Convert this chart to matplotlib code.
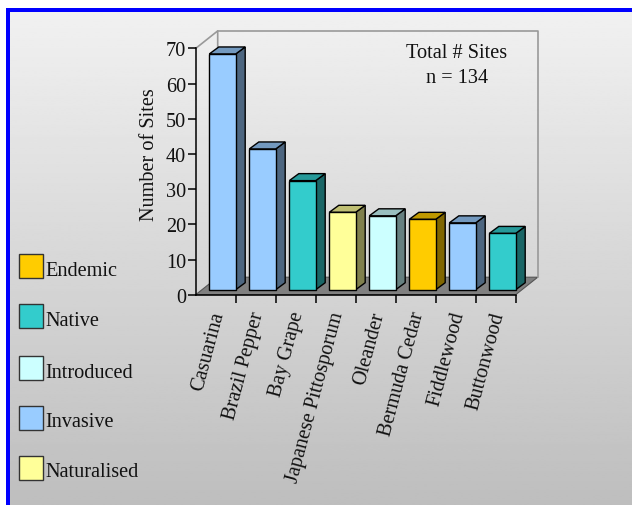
import numpy as np
import matplotlib
matplotlib.use('Agg')
import matplotlib.pyplot as plt
from matplotlib.patches import Polygon, Rectangle

plt.rcParams['font.family'] = ['Liberation Serif', 'DejaVu Serif']

species = ['Casuarina', 'Brazil Pepper', 'Bay Grape', 'Japanese Pittosporum',
           'Oleander', 'Bermuda Cedar', 'Fiddlewood', 'Buttonwood']
sites = [67, 40, 31, 22, 21, 20, 19, 16]
status = ['Invasive', 'Invasive', 'Native', 'Naturalised',
          'Introduced', 'Endemic', 'Invasive', 'Native']

legend_names = ['Endemic', 'Native', 'Introduced', 'Invasive', 'Naturalised']
legend_tops = [255, 305, 357, 407, 457]
colors = {'Endemic': '#FFCC00', 'Native': '#33CCCC', 'Introduced': '#CCFFFF',
          'Invasive': '#99CCFF', 'Naturalised': '#FFFF99'}

W, H = 632, 506
left, bottom, width, height = 195.7, 295.7, 320, 246.3
FS = 14.6

# depth of the box and of each bar, in data units
box_dx, box_dy = 22 / 40, 17.5 / 3.52
bar_dx, bar_dy = 9.5 / 40, 7 / 3.52
bar_x0, bar_w, bar_y0 = 0.34, 0.66, 1.42


def shade(col, k):
    rgb = np.array(matplotlib.colors.to_rgb(col))
    return tuple(rgb * k)


fig = plt.figure(figsize=(W / 100, H / 100), dpi=100, facecolor='white')

# page background with grey gradient and blue frame
bg = fig.add_axes([0, 0, 1, 1], zorder=0)
grad = np.linspace(0.945, 0.745, 256).reshape(-1, 1)
bg.imshow(grad, cmap='gray', vmin=0, vmax=1, aspect='auto',
          extent=(8, W, H, 11), zorder=0)
bg.set_xlim(0, W)
bg.set_ylim(H, 0)
bg.axis('off')
bg.add_patch(Rectangle((6, 9), 4, H, color='#0000FF', lw=0, zorder=1))
bg.add_patch(Rectangle((6, 9), W, 4, color='#0000FF', lw=0, zorder=1))

# legend
for name, top in zip(legend_names, legend_tops):
    bg.add_patch(Rectangle((18.5, top), 24, 24, facecolor=colors[name],
                           edgecolor='#333333', lw=1, zorder=2))
    bg.text(45.5, top + 16, name, fontsize=FS, color='#111111', va='center', ha='left')

ax = fig.add_axes([left / W, 1 - bottom / H, width / W, height / H], zorder=1)
ax.patch.set_visible(False)
ax.set_xlim(0, 8)
ax.set_ylim(0, 70)
for s in ['top', 'right']:
    ax.spines[s].set_visible(False)
for s in ['left', 'bottom']:
    ax.spines[s].set_linewidth(1.1)
    ax.spines[s].set_zorder(20)

# floor and back walls
ax.add_patch(Polygon([(0, 0), (8, 0), (8 + box_dx, box_dy), (box_dx, box_dy)],
                     closed=True, facecolor='#808080', edgecolor='#555555',
                     lw=0.8, clip_on=False, zorder=1))
wall = dict(color='#999999', lw=1.2, clip_on=False, zorder=1)
ax.plot([0, box_dx, box_dx], [70, 70 + box_dy, box_dy], **wall)
ax.plot([box_dx, 8 + box_dx, 8 + box_dx], [70 + box_dy, 70 + box_dy, box_dy], **wall)

# bars are built from a front, a side and a top face
for i, (v, st) in enumerate(zip(sites, status)):
    c = colors[st]
    x0 = i + bar_x0
    x1 = x0 + bar_w
    y0 = bar_y0
    y1 = y0 + v
    edge = dict(edgecolor='black', lw=1.0, clip_on=False, zorder=5 + i)
    ax.add_patch(Polygon([(x1, y0), (x1 + bar_dx, y0 + bar_dy),
                          (x1 + bar_dx, y1 + bar_dy), (x1, y1)],
                         closed=True, facecolor=shade(c, 0.5), **edge))
    ax.add_patch(Polygon([(x0, y1), (x1, y1), (x1 + bar_dx, y1 + bar_dy),
                          (x0 + bar_dx, y1 + bar_dy)],
                         closed=True, facecolor=shade(c, 0.75), **edge))
    ax.add_patch(Rectangle((x0, y0), bar_w, v, facecolor=c, **edge))

ax.set_yticks(range(0, 71, 10))
ax.set_xticks(range(1, 9))
ax.set_xticklabels([])
ax.tick_params(axis='y', length=6, width=1.1, labelsize=FS, pad=1, labelcolor='#111111')
ax.tick_params(axis='x', length=6, width=1.1)

for i, name in enumerate(species):
    ax.annotate(name, xy=(i + 0.5, 0), xytext=(3, -17), textcoords='offset pixels',
                rotation=75, rotation_mode='anchor', ha='right', va='center',
                fontsize=FS, color='#111111', annotation_clip=False)

ax.set_ylabel('Number of Sites', fontsize=FS, color='#111111')
ax.yaxis.set_label_coords(-0.115, 0.574)

ax.text(6.53, 71.5, 'Total # Sites\nn = 134', ha='center', va='top', fontsize=FS,
        color='#111111', linespacing=1.45)

fig.savefig('out.png', dpi=100)
